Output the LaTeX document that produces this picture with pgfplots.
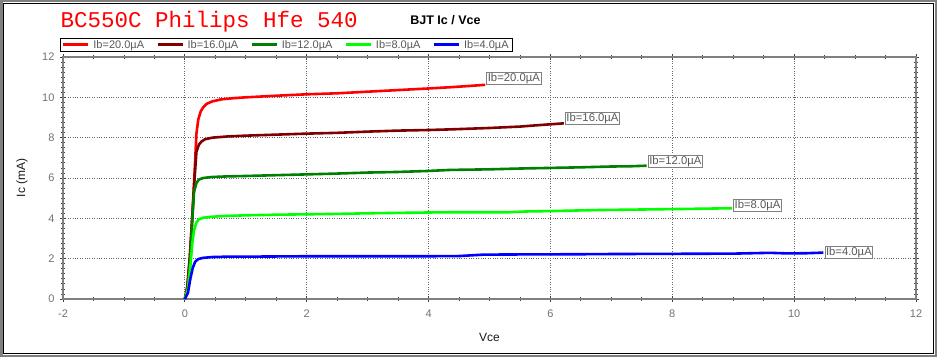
\documentclass[border=0pt]{standalone}
\usepackage{pgfplots}
\pgfplotsset{compat=1.18}
\usepackage{fontspec}
\setmainfont{Liberation Sans}
\newfontfamily\monofont{Liberation Mono}
\definecolor{cRed}{RGB}{255,0,0}
\definecolor{cMaroon}{RGB}{128,0,0}
\definecolor{cGreen}{RGB}{0,128,0}
\definecolor{cLime}{RGB}{0,255,0}
\definecolor{cBlue}{RGB}{0,0,255}
\definecolor{axgray}{RGB}{128,128,128}
\begin{document}
\begin{tikzpicture}[x=1pt,y=1pt]
\useasboundingbox (0,0) rectangle (937,357);
\fill[white] (0,0) rectangle (937,357);
\begin{axis}[
  at={(63pt,58pt)}, anchor=south west,
  scale only axis, width=853pt, height=242pt,
  xmin=-2, xmax=12, ymin=0, ymax=12,
  xtick={-2,0,...,12}, ytick={0,2,...,12},
  minor x tick num=3, minor y tick num=7,
  tick align=center,
  major tick length=6pt, minor tick length=4pt,
  axis line style={axgray, line width=1.3pt},
  every tick/.style={black!75, line width=0.8pt},
  grid=major,
  major grid style={black!60, dotted, line width=0.8pt},
  ticklabel style={font=\fontsize{11}{12}\selectfont, text=black!55},
  xticklabel style={yshift=-4pt},
  yticklabel style={xshift=-2pt},
  /pgf/number format/assume math mode=true,
  xlabel={Vce}, ylabel={Ic (mA)},
  label style={font=\fontsize{12}{13}\selectfont, text=black!90},
  xlabel style={at={(axis description cs:0.5,-0.157)}, anchor=center},
  ylabel style={at={(axis description cs:-0.048,0.5)}, anchor=center},
  legend columns=5,
  legend style={at={(axis description cs:-0.0035,1.021)}, anchor=south west,
    draw=black, line width=0.8pt, inner xsep=1.5pt, inner ysep=0pt,
    font=\fontsize{11}{11.5}\selectfont, text=black!65,
    /tikz/every odd column/.append style={column sep=1.5pt},
    /tikz/every even column/.append style={column sep=10pt}},
  legend image code/.code={\draw[#1, line width=3pt] (0pt,0pt) -- (25pt,0pt);},
  every axis plot/.append style={line width=2.6pt, line join=round, no markers},
]
\addplot[cRed] coordinates {(0,0) (0.04,0.6) (0.08,2.0) (0.12,4.0) (0.16,6.3) (0.19,8.2) (0.22,8.9) (0.26,9.3) (0.3,9.5) (0.36,9.68) (0.45,9.8) (0.6,9.9) (0.8,9.96) (1,10.0) (1.5,10.08) (2,10.15) (2.5,10.2) (3,10.28) (3.5,10.36) (4,10.44) (4.35,10.5) (4.6,10.55) (4.93,10.62)};
\addlegendentry{Ib=20.0µA}
\addplot[cMaroon] coordinates {(0,0) (0.04,0.6) (0.08,2.0) (0.12,4.0) (0.16,6.0) (0.19,7.3) (0.23,7.65) (0.27,7.8) (0.33,7.92) (0.45,8.0) (0.7,8.06) (1,8.1) (1.5,8.15) (2,8.2) (2.5,8.24) (3,8.3) (3.5,8.35) (4,8.38) (4.35,8.41) (5,8.48) (5.5,8.55) (5.8,8.62) (6.22,8.71)};
\addlegendentry{Ib=16.0µA}
\addplot[cGreen] coordinates {(0,0) (0.05,0.6) (0.09,2.0) (0.12,3.8) (0.15,5.3) (0.19,5.75) (0.23,5.92) (0.3,6.0) (0.45,6.05) (0.7,6.08) (1,6.1) (1.5,6.14) (2,6.18) (2.5,6.22) (3,6.27) (3.5,6.3) (4,6.35) (4.35,6.4) (5,6.43) (5.5,6.47) (6,6.5) (6.5,6.53) (7,6.57) (7.3,6.58) (7.58,6.61)};
\addlegendentry{Ib=12.0µA}
\addplot[cLime] coordinates {(0,0) (0.05,0.5) (0.09,1.6) (0.12,2.7) (0.15,3.4) (0.19,3.8) (0.23,3.95) (0.3,4.03) (0.45,4.08) (0.7,4.12) (1,4.15) (1.5,4.18) (2,4.2) (2.5,4.22) (3,4.25) (3.5,4.27) (4,4.29) (4.35,4.3) (5.3,4.3) (5.6,4.34) (6,4.36) (6.76,4.41) (7.3,4.43) (7.8,4.45) (8.3,4.47) (8.98,4.5)};
\addlegendentry{Ib=8.0µA}
\addplot[cBlue] coordinates {(0,0) (0.05,0.3) (0.09,1.0) (0.13,1.55) (0.17,1.85) (0.22,1.98) (0.3,2.04) (0.45,2.08) (0.7,2.1) (1,2.1) (2,2.12) (3,2.12) (4,2.12) (4.5,2.13) (4.9,2.2) (5.5,2.21) (6.5,2.22) (7,2.23) (8,2.24) (9,2.25) (9.6,2.29) (9.9,2.26) (10.2,2.27) (10.48,2.3)};
\addlegendentry{Ib=4.0µA}
\tikzset{clab/.style={draw=axgray, fill=white, line width=0.8pt, inner xsep=1pt, inner ysep=1pt, font=\fontsize{11.3}{12}\selectfont, text=black!65}}
\node[clab, anchor=south west] at (axis cs:4.95,10.6) {Ib=20.0µA};
\node[clab, anchor=south west] at (axis cs:6.24,8.62) {Ib=16.0µA};
\node[clab, anchor=south west] at (axis cs:7.6,6.5) {Ib=12.0µA};
\node[clab, anchor=west] at (axis cs:9.0,4.63) {Ib=8.0µA};
\node[clab, anchor=west] at (axis cs:10.5,2.3) {Ib=4.0µA};
\end{axis}
\node[anchor=base west, text=red, font=\monofont\fontsize{22.5}{24}\selectfont] at (57,329) {BC550C Philips Hfe 540};
\node[anchor=center, font=\bfseries\fontsize{12.5}{13}\selectfont] at (445.5,337) {BJT Ic / Vce};
\draw[axgray, line width=2.5pt] (1.25,1.25) rectangle (935.75,355.75);
\draw[black, line width=0.9pt] (3.2,3.2) rectangle (933.8,353.8);
\end{tikzpicture}
\end{document}
